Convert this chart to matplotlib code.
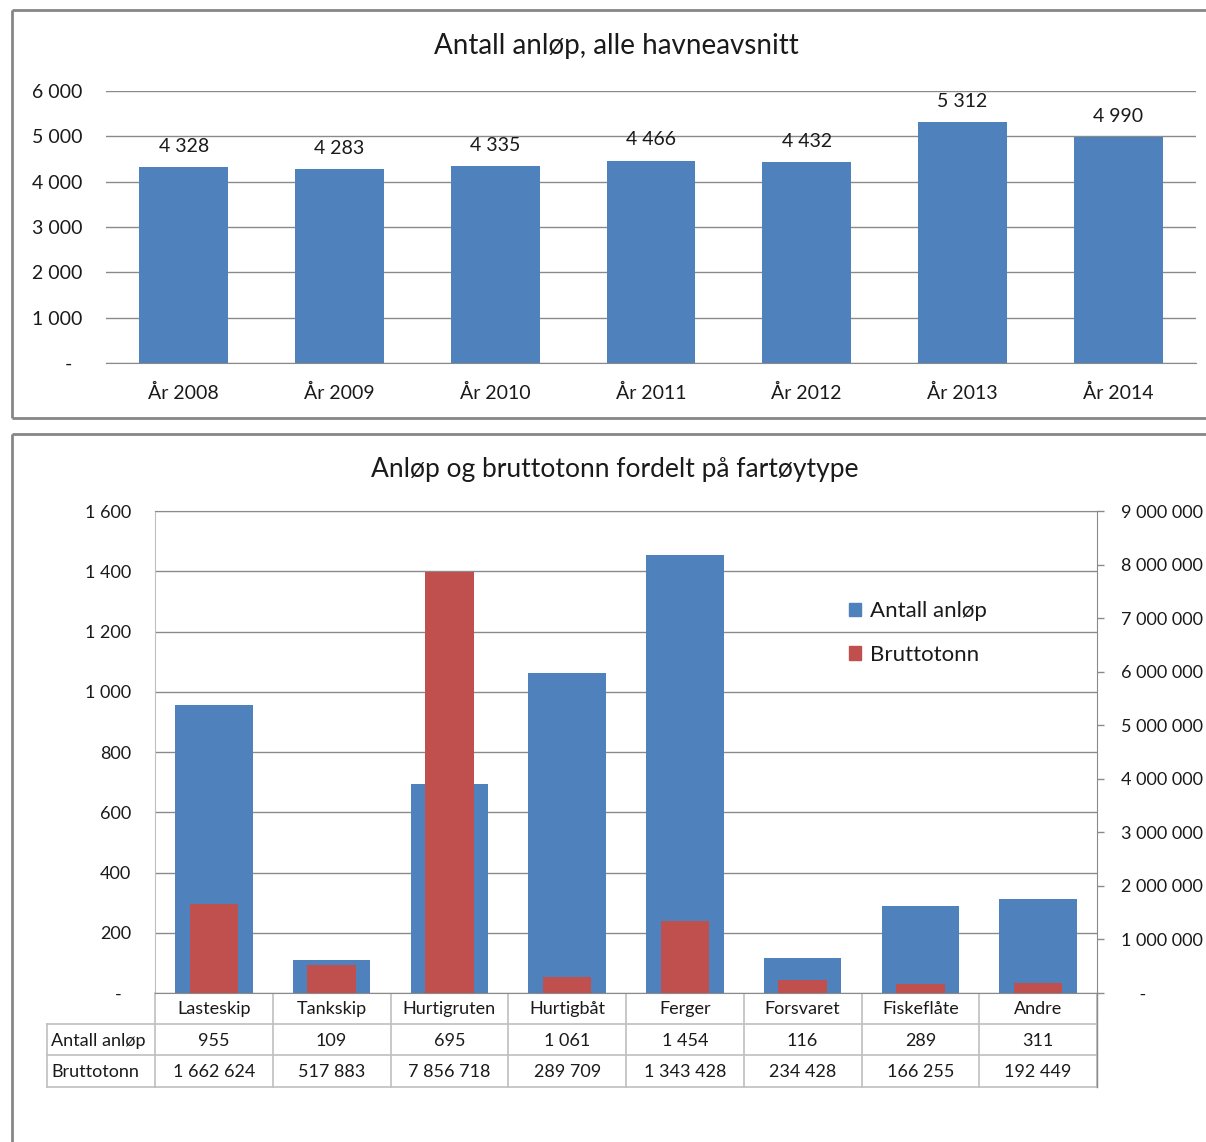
import matplotlib
matplotlib.use('Agg')
import matplotlib.pyplot as plt
from matplotlib.transforms import blended_transform_factory as btf
from matplotlib.ticker import FuncFormatter, MultipleLocator
from matplotlib.patches import Patch

# ---------------- data ----------------
years = ['År 2008', 'År 2009', 'År 2010', 'År 2011', 'År 2012', 'År 2013', 'År 2014']
anlop_total = [4328, 4283, 4335, 4466, 4432, 5312, 4990]

types = ['Lasteskip', 'Tankskip', 'Hurtigruten', 'Hurtigbåt', 'Ferger',
         'Forsvaret', 'Fiskeflåte', 'Andre']
anlop = [955, 109, 695, 1061, 1454, 116, 289, 311]
brutto = [1662624, 517883, 7856718, 289709, 1343428, 234428, 166255, 192449]

title_top = 'Antall anløp, alle havneavsnitt'
title_bottom = 'Anløp og bruttotonn fordelt på fartøytype'
row_labels = ['Antall anløp', 'Bruttotonn']

# ---------------- style ----------------
W, H = 1206, 1142
BLUE = '#4F81BD'
RED = '#C0504D'
GRID = '#8a8a8a'
LIGHT = '#bfbfbf'
BORDER = '#868686'
TXT = '#1a1a1a'
plt.rcParams['font.family'] = ['Lato', 'DejaVu Sans']
plt.rcParams['text.color'] = TXT
plt.rcParams['xtick.color'] = TXT
plt.rcParams['ytick.color'] = TXT

fig = plt.figure(figsize=(W / 100, H / 100), dpi=100)


def fmt(v, pos=None):
    if v == 0:
        return '-'
    return f'{int(round(v)):,}'.replace(',', ' ')


def fmt_axis(v, pos=None):
    if v == 0:
        return '-  '
    return f'{int(round(v)):,}'.replace(',', ' ')


def ax_rect(l, t, r, b):
    return [l / W, 1 - b / H, (r - l) / W, (b - t) / H]


# overlay for panel borders and table lines
ov = fig.add_axes([0, 0, 1, 1], zorder=-1)
ov.set_xlim(0, W)
ov.set_ylim(H, 0)
ov.axis('off')
for xs, ys in [([12, W], [10, 10]), ([12, W], [418, 418]), ([12, 12], [10, 418]),
               ([12, W], [434, 434]), ([12, 12], [434, H])]:
    ov.plot(xs, ys, color=BORDER, lw=2, solid_capstyle='butt')

# ---------------- top chart ----------------
ax1 = fig.add_axes(ax_rect(106, 91, 1196, 363))
x1 = list(range(len(years)))
ax1.bar(x1, anlop_total, width=0.57, color=BLUE, zorder=2)
ax1.set_xlim(-0.5, len(years) - 0.5)
ax1.set_ylim(0, 6000)
ax1.yaxis.set_major_locator(MultipleLocator(1000))
ax1.yaxis.set_major_formatter(FuncFormatter(fmt_axis))
ax1.grid(axis='y', color=GRID, lw=1, zorder=0)
ax1.set_axisbelow(True)
for s in ['top', 'left', 'right']:
    ax1.spines[s].set_visible(False)
ax1.spines['bottom'].set_color(GRID)
ax1.set_xticks(x1)
ax1.set_xticklabels(years)
ax1.tick_params(axis='y', length=0, pad=17, labelsize=14)
ax1.tick_params(axis='x', length=0, pad=15, labelsize=14)
for i, v in enumerate(anlop_total):
    ax1.annotate(fmt(v), (i, v), xytext=(0, 11), textcoords='offset points',
                 ha='center', va='baseline', fontsize=14)
fig.text(616 / W, 1 - 46 / H, title_top, ha='center', va='center', fontsize=20)

# ---------------- bottom chart ----------------
ax2 = fig.add_axes(ax_rect(155, 511, 1097, 993))
x2 = list(range(len(types)))
ax2.bar(x2, anlop, width=0.66, color=BLUE, zorder=2, label='Antall anløp')
ax2.set_xlim(-0.5, len(types) - 0.5)
ax2.set_ylim(0, 1600)
ax2.yaxis.set_major_locator(MultipleLocator(200))
ax2.yaxis.set_major_formatter(FuncFormatter(fmt_axis))
ax2.grid(axis='y', color=GRID, lw=1, zorder=0)
ax2.set_axisbelow(True)
ax2.set_xticks([])
ax2.spines['left'].set_color(LIGHT)
ax2.spines['top'].set_color(GRID)
ax2.spines['bottom'].set_color(GRID)
ax2.spines['right'].set_visible(False)
ax2.tick_params(axis='y', length=0, pad=17, labelsize=13)

ax3 = ax2.twinx()
ax3.bar(x2, brutto, width=0.41, color=RED, zorder=3, label='Bruttotonn')
ax3.set_ylim(0, 9000000)
ax3.yaxis.set_major_locator(MultipleLocator(1000000))
ax3.yaxis.set_major_formatter(FuncFormatter(lambda v, p: '    -' if v == 0 else fmt(v)))
for s in ['top', 'left', 'bottom']:
    ax3.spines[s].set_visible(False)
ax3.spines['right'].set_color(GRID)
ax3.tick_params(axis='y', length=5, width=1, color=GRID, pad=12, labelsize=13)

fig.text(615 / W, 1 - 470 / H, title_bottom, ha='center', va='center', fontsize=19)

leg = fig.legend(handles=[Patch(color=BLUE, label='Antall anløp'),
                          Patch(color=RED, label='Bruttotonn')],
                 loc='center left', bbox_to_anchor=(849 / W, 1 - 633 / H),
                 frameon=False, fontsize=16, handlelength=0.55, handleheight=0.55,
                 handletextpad=0.4, borderpad=0, borderaxespad=0, labelspacing=1.05)

# ---------------- data table ----------------
tr = btf(ax2.transData, ov.transData)
edges = [i - 0.5 for i in range(len(types) + 1)]
# vertical lines
for e in edges:
    ov.plot([e, e], [993, 1087], color=LIGHT, lw=1.2, transform=tr)
ov.plot([47, 47], [1024, 1087], color=LIGHT, lw=1.2)
# horizontal lines
for yy in [1024, 1055, 1087]:
    ov.plot([47, 155], [yy, yy], color=LIGHT, lw=1.2)
    ov.plot([edges[0], edges[-1]], [yy, yy], color=LIGHT, lw=1.2, transform=tr)
# right axis line extension
ov.plot([edges[-1], edges[-1]], [993, 1087], color=GRID, lw=1, transform=tr)

for i, name in enumerate(types):
    ov.text(i, 1009, name, transform=tr, ha='center', va='center', fontsize=13)
    ov.text(i, 1041, fmt(anlop[i]), transform=tr, ha='center', va='center', fontsize=13)
    ov.text(i, 1072, fmt(brutto[i]), transform=tr, ha='center', va='center', fontsize=13)
ov.text(51, 1041, row_labels[0], ha='left', va='center', fontsize=13)
ov.text(51, 1072, row_labels[1], ha='left', va='center', fontsize=13)

fig.savefig('out.png', dpi=100, facecolor='white')
